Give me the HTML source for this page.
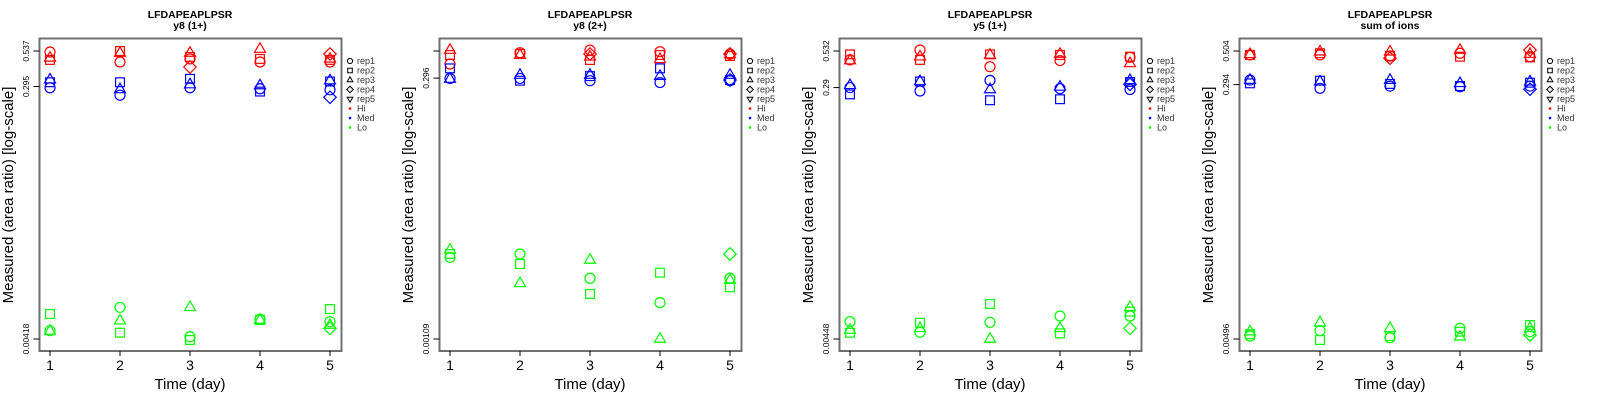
<!DOCTYPE html>
<html><head><meta charset="utf-8">
<style>
html,body{margin:0;padding:0;background:#fff;}
svg{display:block;font-family:"Liberation Sans",sans-serif;}
</style></head>
<body>
<svg id="chart" width="1600" height="400" viewBox="0 0 1600 400" xmlns="http://www.w3.org/2000/svg"></svg>
<script>
// ---- data ----
const days = [1, 2, 3, 4, 5];
const panelTitles = ["y8 (1+)", "y8 (2+)", "y5 (1+)", "sum of ions"];
const tickValues = [[0.00418, 0.295, 0.537], [0.00109, 0.296, 0.53], [0.00448, 0.29, 0.532], [0.00496, 0.294, 0.504]];
const tickLabels = [["0.00418", "0.295", "0.537"], ["0.00109", "0.296", ""], ["0.00448", "0.29", "0.532"], ["0.00496", "0.294", "0.504"]];
const repNames = ["rep1", "rep2", "rep3", "rep4", "rep5"];
const groupNames = ["Hi", "Med", "Lo"];

// panel 1: y8 (1+)  [rep][day]
const p1Hi = [[0.528,0.446,0.470,0.446,0.446],[0.462,0.537,0.486,0.470,0.462],[0.478,0.519,0.519,0.555,0.470],[null,null,0.410,null,0.510]];
const p1Med = [[0.289,0.255,0.289,0.284,0.279],[0.317,0.317,0.336,0.271,0.321],[0.331,0.281,0.305,0.300,0.326],[null,null,null,null,0.246]];
const p1Lo = [[0.00481,0.00713,0.00434,0.00583,0.00560],[0.00637,0.00465,0.00411,0.00576,0.00693],[0.00479,0.00569,0.00713,0.00576,0.00529],[null,null,null,null,0.00500]];
// panel 2: y8 (2+)
const p2Hi = [[0.401,0.511,0.541,0.522,0.497],[0.486,0.497,0.437,0.486,0.476],[0.541,0.486,0.468,0.443,0.493],[null,null,0.497,null,0.497]];
const p2Med = [[0.294,0.294,0.280,0.269,0.280],[0.365,0.280,0.309,0.365,0.284],[0.290,0.316,0.316,0.309,0.316],[null,null,null,null,0.284]];
const p2Lo = [[0.00630,0.00677,0.00402,0.00238,0.00402],[0.00677,0.00546,0.00287,0.00453,0.00331],[0.00738,0.00360,0.00595,0.00109,0.00387],[null,null,null,null,0.00677]];
// panel 3: y5 (1+)
const p3Hi = [[0.459,0.541,0.410,0.454,0.479],[0.503,0.459,0.503,0.498,0.484],[0.454,0.484,0.498,0.506,0.433]];
const p3Med = [[0.290,0.274,0.327,0.285,0.281],[0.259,0.321,0.235,0.239,0.318],[0.301,0.321,0.281,0.293,0.327],[null,null,null,null,0.306]];
const p3Lo = [[0.00597,0.00501,0.00591,0.00656,0.00656],[0.00497,0.00587,0.00801,0.00492,0.00705],[0.00520,0.00535,0.00448,0.00535,0.00758],[null,null,null,null,0.00535]];
// panel 4: sum of ions
const p4Hi = [[0.473,0.473,0.465,0.486,0.460],[0.473,0.486,0.465,0.460,0.455],[0.478,0.498,0.498,0.512,0.480],[null,null,0.449,null,0.512]];
const p4Med = [[0.316,0.277,0.287,0.284,0.287],[0.300,0.313,0.297,0.287,0.303],[0.316,0.308,0.316,0.300,0.308],[null,null,null,null,0.273]];
const p4Lo = [[0.00520,0.00567,0.00506,0.00589,0.00558],[0.00535,0.00488,0.00520,0.00558,0.00621],[0.00558,0.00644,0.00589,0.00514,0.00589],[null,null,null,null,0.00529]];

const panelData = [[p1Hi,p1Med,p1Lo],[p2Hi,p2Med,p2Lo],[p3Hi,p3Med,p3Lo],[p4Hi,p4Med,p4Lo]];
const groupColors = ["#ff0000", "#0000ff", "#00ff00"];

const svg = document.getElementById('chart');
const NS = "http://www.w3.org/2000/svg";
function mk(tag, attrs, parent) {
  const e = document.createElementNS(NS, tag);
  for (const k in attrs) e.setAttribute(k, attrs[k]);
  (parent || svg).appendChild(e);
  return e;
}
function marker(g, shape, cx, cy, r, color, sw) {
  let e;
  if (shape === 0) e = mk('circle', {cx: cx, cy: cy, r: r, fill: 'none', stroke: color, 'stroke-width': sw}, g);
  else if (shape === 1) e = mk('rect', {x: cx - r*0.88, y: cy - r*0.88, width: r*1.76, height: r*1.76, fill: 'none', stroke: color, 'stroke-width': sw}, g);
  else if (shape === 2) e = mk('polygon', {points: `${cx},${cy - r*1.25} ${cx - r*1.1},${cy + r*0.65} ${cx + r*1.1},${cy + r*0.65}`, fill: 'none', stroke: color, 'stroke-width': sw}, g);
  else if (shape === 3) e = mk('polygon', {points: `${cx},${cy - r*1.25} ${cx + r*1.25},${cy} ${cx},${cy + r*1.25} ${cx - r*1.25},${cy}`, fill: 'none', stroke: color, 'stroke-width': sw}, g);
  else e = mk('polygon', {points: `${cx},${cy + r*1.25} ${cx - r*1.1},${cy - r*0.65} ${cx + r*1.1},${cy - r*0.65}`, fill: 'none', stroke: color, 'stroke-width': sw}, g);
  return e;
}

const boxL = 39.5, boxR = 341.5, boxT = 38.5, boxB = 351;
const yTopPix = 51, yBotPix = 339;
const xFirst = 50, xLast = 330;

for (let p = 0; p < 4; p++) {
  const ox = p * 400;
  const g = mk('g', {transform: `translate(${ox},0)`});
  
  
  const tv = tickValues[p];
  const lb = Math.log(tv[0]), lt = Math.log(tv[2]);
  const yScale = v => yBotPix - (Math.log(v) - lb) / (lt - lb) * (yBotPix - yTopPix);
  const xScale = d => xFirst + (d - days[0]) / (days[days.length - 1] - days[0]) * (xLast - xFirst);

  let t = mk('text', {x: 190, y: 18, 'text-anchor': 'middle', 'font-size': 10.5, 'font-weight': 'bold', fill: '#000'}, g);
  t.textContent = 'LFDAPEAPLPSR';
  
  
  t = mk('text', {x: 190, y: 29, 'text-anchor': 'middle', 'font-size': 10.5, 'font-weight': 'bold', fill: '#000'}, g);
  t.textContent = panelTitles[p];
  
  

  // points
  const pts = mk('g', {}, g);
  
  
  panelData[p].forEach((grp, gi) => {
    grp.forEach((rep, ri) => {
      rep.forEach((v, di) => {
        if (v === null || v === undefined) return;
        const m = marker(pts, ri, xScale(days[di]), yScale(v), 5, groupColors[gi], 1.2);
        
        
      });
    });
  });

  // box
  const box = mk('rect', {x: boxL, y: boxT, width: boxR - boxL, height: boxB - boxT, fill: 'none', stroke: '#707070', 'stroke-width': 2}, g);
  
  

  // x axis
  days.forEach(d => {
    const x = xScale(d);
    const tk = mk('line', {x1: x, x2: x, y1: boxB, y2: boxB + 5, stroke: '#000', 'stroke-width': 1}, g);
    
    
    const tl = mk('text', {x: x, y: 370, 'text-anchor': 'middle', 'font-size': 14, fill: '#000'}, g);
    tl.textContent = String(d);
    
    
  });
  t = mk('text', {x: 190, y: 389, 'text-anchor': 'middle', 'font-size': 15, fill: '#000'}, g);
  t.textContent = 'Time (day)';
  
  

  // y axis
  tv.forEach((v, i) => {
    const y = yScale(v);
    const tk = mk('line', {x1: boxL - 6, x2: boxL, y1: y, y2: y, stroke: '#000', 'stroke-width': 1}, g);
    
    
    if (tickLabels[p][i]) {
      const tl = mk('text', {x: 0, y: 0, 'text-anchor': 'middle', 'font-size': 8.5, fill: '#000', transform: `translate(29,${y}) rotate(-90)`}, g);
      tl.textContent = tickLabels[p][i];
      
      
    }
  });
  t = mk('text', {x: 0, y: 0, 'text-anchor': 'middle', 'font-size': 15, fill: '#000', transform: 'translate(13,195) rotate(-90)'}, g);
  t.textContent = 'Measured (area ratio) [log-scale]';
  
  

  // legend
  const lg = mk('g', {}, g);
  
  
  repNames.forEach((n, i) => {
    const y = 61 + i * 9.5;
    const m = marker(lg, i, 350, y, 2.6, '#000', 1);
    
    
    const tl = mk('text', {x: 357, y: y + 3, 'font-size': 9, fill: '#333'}, lg);
    tl.textContent = n;
    
    
  });
  groupNames.forEach((n, i) => {
    const y = 61 + (5 + i) * 9.5;
    const m = mk('circle', {cx: 350, cy: y, r: 1.3, fill: groupColors[i]}, lg);
    
    
    const tl = mk('text', {x: 357, y: y + 3, 'font-size': 9, fill: '#333'}, lg);
    tl.textContent = n;
    
    
  });
}
</script>
</body></html>
